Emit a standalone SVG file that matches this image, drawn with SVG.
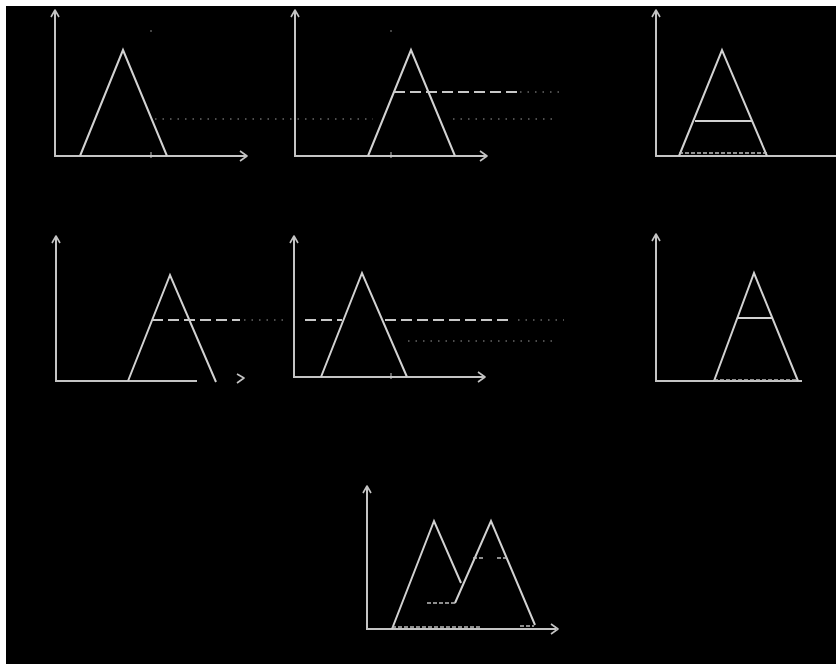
<svg xmlns="http://www.w3.org/2000/svg" width="836" height="664" viewBox="0 0 836 664">
<style>
.ax{stroke:#c4c4c4;stroke-width:2;fill:none}
.ah{stroke:#c4c4c4;stroke-width:1.6;fill:none;stroke-linejoin:round}
.tri{stroke:#d2d2d2;stroke-width:2;fill:none;stroke-linejoin:miter}
.dash{stroke:#c8c8c8;stroke-width:2;fill:none;stroke-dasharray:11 5}
.sdash{stroke:#bdbdbd;stroke-width:1.6;fill:none;stroke-dasharray:4 2}
.dot{stroke:#9a9a9a;stroke-width:1.2;fill:none;stroke-dasharray:1.5 6}
.cut{stroke:#d2d2d2;stroke-width:2;fill:none}
</style>
<rect x="0" y="0" width="836" height="664" fill="#ffffff"/>
<rect x="6" y="6" width="830" height="658" fill="#000000"/>

<g id="panel1">
<path class="ax" d="M55 11 V156 H246"/>
<path class="ah" d="M51 17 L55 10 L59 17"/>
<path class="ah" d="M240 151 L247 156 L240 161"/>
<path class="tri" d="M80 156 L123 50 L167 156"/>
<path class="ax" d="M151 152 V158" style="stroke-width:1"/>
<circle cx="151" cy="31" r="0.8" fill="#999"/>
</g>

<g id="panel2">
<path class="ax" d="M295 11 V156 H486"/>
<path class="ah" d="M291 17 L295 10 L299 17"/>
<path class="ah" d="M480 151 L487 156 L480 161"/>
<path class="tri" d="M368 156 L411 50 L455 156"/>
<path class="ax" d="M391 152 V158" style="stroke-width:1"/>
<circle cx="391" cy="31" r="0.8" fill="#999"/>
</g>

<g id="panel3">
<path class="ax" d="M656 11 V156 H836"/>
<path class="ah" d="M652 17 L656 10 L660 17"/>
<path class="tri" d="M679 156 L722 50 L767 156"/>
<path class="cut" d="M695 121 H752"/>
<path class="sdash" d="M679 153 H767"/>
</g>

<g id="panel4">
<path class="ax" d="M56 237 V381 H197"/>
<path class="ah" d="M52 243 L56 236 L60 243"/>
<path class="ah" d="M237 374 L244 378 L237 383"/>
<path class="tri" d="M128 381 L170 275 L216 382"/>
</g>

<g id="panel5">
<path class="ax" d="M294 237 V377 H484"/>
<path class="ah" d="M290 243 L294 236 L298 243"/>
<path class="ah" d="M478 372 L485 377 L478 382"/>
<path class="tri" d="M321 377 L362 273 L407 377"/>
<path class="ax" d="M391 373 V379" style="stroke-width:1"/>
</g>

<g id="panel6">
<path class="ax" d="M656 235 V381 H802"/>
<path class="ah" d="M652 241 L656 234 L660 241"/>
<path class="tri" d="M714 381 L754 273 L798 381"/>
<path class="cut" d="M738 318 H772"/>
<path class="sdash" d="M714 380 H798"/>
</g>

<g id="panel7">
<path class="ax" d="M367 487 V629 H556"/>
<path class="ah" d="M363 493 L367 486 L371 493"/>
<path class="ah" d="M551 624 L558 629 L551 634"/>
<path class="tri" d="M392 629 L434 521 L461 583"/>
<path class="tri" d="M455 603 L491 521 L535 625"/>
<path class="sdash" d="M427 603 H455"/>
<path class="sdash" d="M473 558 H485 M497 558 H507"/>
<path class="sdash" d="M392 627 H480"/>
<path class="sdash" d="M520 626 H534"/>
</g>

<g id="connectors">
<path class="dot" d="M155 119 H373 M453 119 H555"/>
<path class="dash" d="M394 92 H517"/>
<path class="dot" d="M520 92 H563"/>
<path class="dash" d="M152 320 H240"/>
<path class="dot" d="M244 320 H285"/>
<path class="dash" d="M305 320 H342"/>
<path class="dash" d="M385 320 H513"/>
<path class="dot" d="M518 320 H564"/>
<path class="dot" d="M408 341 H552"/>
</g>
</svg>
